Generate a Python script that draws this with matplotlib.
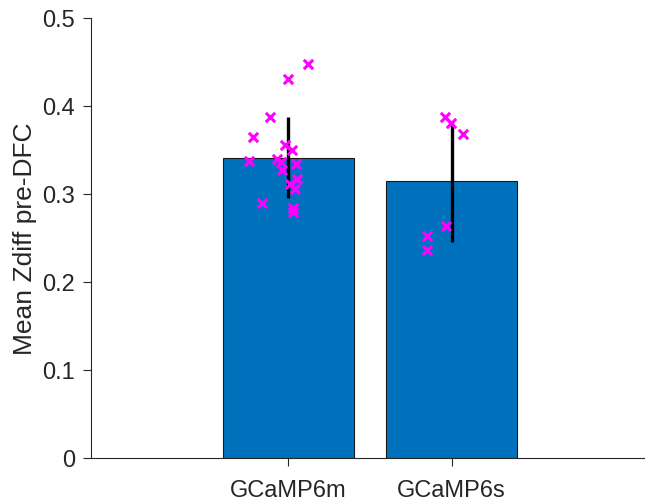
import numpy as np
from matplotlib import pyplot as plt

# groups and summary values (mean +/- sd)
groups = ["GCaMP6m", "GCaMP6s"]
bar_means = [0.341, 0.314]
bar_sd = [0.046, 0.069]

# per-animal values with horizontal jitter
m_vals = [0.448, 0.430, 0.387, 0.365, 0.337, 0.355, 0.350, 0.340, 0.336,
          0.327, 0.334, 0.317, 0.311, 0.305, 0.290, 0.284, 0.279]
m_jit = [0.119, 0.000, -0.112, -0.214, -0.239, -0.020, 0.021, -0.067, -0.047,
         -0.040, 0.047, 0.051, 0.010, 0.041, -0.163, 0.027, 0.031]
s_vals = [0.387, 0.380, 0.368, 0.264, 0.252, 0.236]
s_jit = [-0.041, -0.004, 0.071, -0.037, -0.153, -0.153]

plt.rcParams['font.family'] = ['Liberation Sans', 'DejaVu Sans']
text_col = '#262626'

fig = plt.figure(figsize=(6.45, 5.02), dpi=100)
ax = fig.add_axes([0.141, 0.0857, 0.859, 0.877])

x = np.arange(1, len(groups) + 1)
ax.bar(x, bar_means, width=0.8, color='#0072BD', edgecolor='#1a1a1a', linewidth=0.8, zorder=1)
ax.errorbar(x, bar_means, yerr=bar_sd, fmt='none', ecolor='black', elinewidth=2.4, capsize=0, zorder=2)

ax.scatter(1 + np.array(m_jit), m_vals, marker='x', s=45, color='magenta', linewidths=2.2, zorder=3)
ax.scatter(2 + np.array(s_jit), s_vals, marker='x', s=45, color='magenta', linewidths=2.2, zorder=3)

ax.set_xlim(-0.2075, 3.183)
ax.set_ylim(0, 0.5)
ax.set_xticks(x)
ax.set_xticklabels(groups)
ax.set_yticks([0, 0.1, 0.2, 0.3, 0.4, 0.5])
ax.set_yticklabels(['0', '0.1', '0.2', '0.3', '0.4', '0.5'])
ax.set_ylabel('Mean Zdiff pre-DFC', fontsize=19, color=text_col, labelpad=4)

for side in ['top', 'right']:
    ax.spines[side].set_visible(False)
for side in ['left', 'bottom']:
    ax.spines[side].set_color(text_col)
    ax.spines[side].set_linewidth(0.8)
ax.tick_params(axis='both', direction='out', length=6, width=0.8, colors=text_col,
               labelsize=17, labelcolor=text_col)
ax.tick_params(axis='y', pad=5.5)
ax.tick_params(axis='x', pad=9)

fig.savefig('out.png', dpi=100)
plt.close(fig)
